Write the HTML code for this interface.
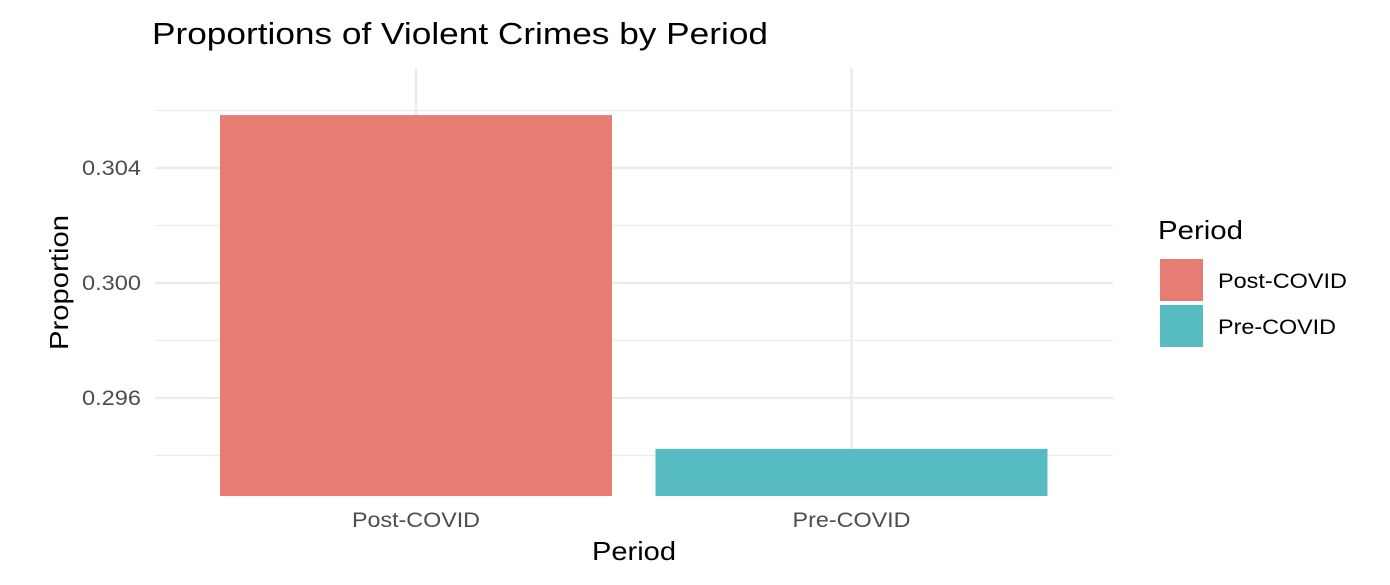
<!DOCTYPE html>
<html><head><meta charset="utf-8"><style>
body{margin:0;background:#fff;font-family:"Liberation Sans",Arial,sans-serif;}
</style></head><body>
<svg width="1390" height="580" xmlns="http://www.w3.org/2000/svg">
<text x="152" y="44" font-size="31" textLength="616" lengthAdjust="spacingAndGlyphs" fill="#000">Proportions of Violent Crimes by Period</text>
<g id="grid"></g>
<g id="bars"></g>
<g id="yticks"></g>
<g id="xticks"></g>
<text x="592" y="560" font-size="26" textLength="84" lengthAdjust="spacingAndGlyphs">Period</text>
<text transform="translate(68,350) rotate(-90)" font-size="26" textLength="135" lengthAdjust="spacingAndGlyphs">Proportion</text>
<g>
<text x="1158" y="239" font-size="26" textLength="85" lengthAdjust="spacingAndGlyphs">Period</text>
<rect x="1160" y="259" width="43" height="42" fill="#E77C73"/>
<text x="1218" y="288" font-size="21" textLength="129" lengthAdjust="spacingAndGlyphs">Post-COVID</text>
<rect x="1160" y="305" width="43" height="42" fill="#57BCC2"/>
<text x="1218" y="334" font-size="21" textLength="118" lengthAdjust="spacingAndGlyphs">Pre-COVID</text>
</g>
</svg>
<script>
const categories=["Post-COVID","Pre-COVID"];
const values=[0.30584,0.29423];
const colors=["#E77C73","#57BCC2"];
const yTicks=[0.296,0.300,0.304];
const yTickLabels=["0.296","0.300","0.304"];
const yMinor=[0.294,0.298,0.302,0.306];
const NS="http://www.w3.org/2000/svg";
const panelL=155,panelR=1113,panelT=68,panelB=496;
const yBase=0.29259;
function y(v){return panelB-(v-yBase)*115/0.004;}
function x(i){return 416+i*435.5;}
const bw=392;
function mk(t,a){const e=document.createElementNS(NS,t);for(const k in a)e.setAttribute(k,a[k]);return e;}
const grid=document.getElementById('grid');
yMinor.forEach(v=>{const l=mk('line',{x1:panelL,x2:panelR,y1:y(v),y2:y(v),stroke:'#EBEBEB','stroke-width':1.2});

grid.appendChild(l);});
yTicks.forEach(v=>{const l=mk('line',{x1:panelL,x2:panelR,y1:y(v),y2:y(v),stroke:'#EBEBEB','stroke-width':2.4});

grid.appendChild(l);});
categories.forEach((c,i)=>{const l=mk('line',{x1:x(i),x2:x(i),y1:panelT,y2:panelB,stroke:'#EBEBEB','stroke-width':2.4});

grid.appendChild(l);});
const bars=document.getElementById('bars');
values.forEach((v,i)=>{const r=mk('rect',{x:x(i)-bw/2,y:y(v),width:bw,height:panelB-y(v),fill:colors[i]});

bars.appendChild(r);});
const yt=document.getElementById('yticks');
yTicks.forEach((v,i)=>{const t=mk('text',{x:82,y:y(v)+7,'font-size':21,fill:'#4D4D4D',textLength:59,lengthAdjust:'spacingAndGlyphs'});t.textContent=yTickLabels[i];

yt.appendChild(t);});
const xt=document.getElementById('xticks');
const xLabW=[128,118];
categories.forEach((c,i)=>{const t=mk('text',{x:x(i)-xLabW[i]/2,y:527,'font-size':21,fill:'#4D4D4D',textLength:xLabW[i],lengthAdjust:'spacingAndGlyphs'});t.textContent=c;

xt.appendChild(t);});
</script>
</body></html>
